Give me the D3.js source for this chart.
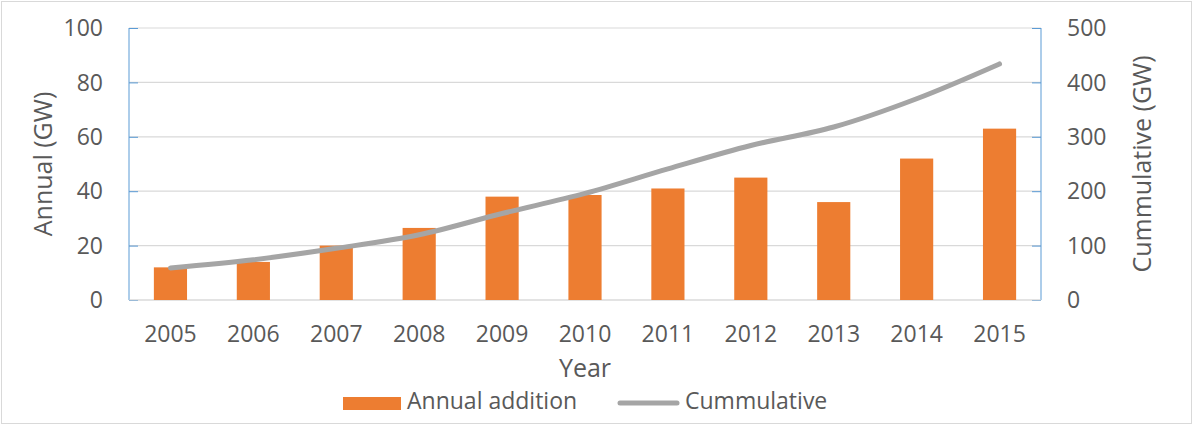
<!DOCTYPE html>
<html>
<head>
<meta charset="utf-8">
<script src="https://cdn.jsdelivr.net/npm/d3@7"></script>
<style>
  body { margin: 0; background: #fff; }
  svg { display: block; font-family: 'Open Sans', sans-serif; }
</style>
</head>
<body>
<svg></svg>
<script>
const width = 1198;
const height = 426;

const years = ['2005', '2006', '2007', '2008', '2009', '2010', '2011', '2012', '2013', '2014', '2015'];
const annual = [12, 14, 20, 26.5, 38, 38.6, 41, 45, 36, 52, 63];
const cumulative = [59, 74, 95, 120, 159, 196, 241, 284, 318, 370, 434];
const leftTicks = [0, 20, 40, 60, 80, 100];
const rightTicks = [0, 100, 200, 300, 400, 500];

const plot = { left: 129, right: 1041, top: 28, bottom: 300 };
const textColor = '#595959';
const axisBlue = '#5b9bd5';

const svg = d3.select('svg')
  .attr('width', width)
  .attr('height', height);

// outer frame
svg.append('rect')
  .attr('x', 1.5)
  .attr('y', 1.5)
  .attr('width', 1190)
  .attr('height', 422)
  .attr('fill', '#fff')
  .attr('stroke', '#d9d9d9');

svg.append('clipPath')
  .attr('id', 'chartClip')
  .append('rect')
  .attr('x', 0)
  .attr('y', 0)
  .attr('width', width)
  .attr('height', 410);

const g = svg.append('g').attr('clip-path', 'url(#chartClip)');

const xScale = d3.scaleBand()
  .domain(years)
  .range([plot.left, plot.right])
  .paddingInner(0.6)
  .paddingOuter(0.3);

const yLeft = d3.scaleLinear()
  .domain([0, 100])
  .range([plot.bottom, plot.top]);

const yRight = d3.scaleLinear()
  .domain([0, 500])
  .range([plot.bottom, plot.top]);

// ====================================
// Gridlines
// ====================================
g.append('g')
  .selectAll('line')
  .data(leftTicks)
  .enter()
  .append('line')
  .attr('x1', plot.left)
  .attr('x2', plot.right)
  .attr('y1', d => yLeft(d))
  .attr('y2', d => yLeft(d))
  .attr('stroke', '#d9d9d9')
  .attr('stroke-width', 1.2);

// ====================================
// Axes
// ====================================
const leftAxis = g.append('g')
  .attr('transform', `translate(${plot.left}, 0)`)
  .call(d3.axisRight(yLeft).tickValues(leftTicks).tickSize(9).tickFormat(''));
leftAxis.select('.domain').attr('stroke', axisBlue).attr('d', `M0,${plot.top}V${plot.bottom}`);
leftAxis.selectAll('.tick line').attr('stroke', axisBlue);

const rightAxis = g.append('g')
  .attr('transform', `translate(${plot.right}, 0)`)
  .call(d3.axisLeft(yRight).tickValues(rightTicks).tickSize(9).tickFormat(''));
rightAxis.select('.domain').attr('stroke', axisBlue).attr('d', `M0,${plot.top}V${plot.bottom}`);
rightAxis.selectAll('.tick line').attr('stroke', axisBlue);

g.append('g')
  .selectAll('text')
  .data(leftTicks)
  .enter()
  .append('text')
  .attr('x', plot.left - 26)
  .attr('y', d => yLeft(d))
  .attr('dy', '0.36em')
  .attr('text-anchor', 'end')
  .attr('font-size', 23)
  .attr('fill', textColor)
  .text(d => d);

g.append('g')
  .selectAll('text')
  .data(rightTicks)
  .enter()
  .append('text')
  .attr('x', plot.right + 26)
  .attr('y', d => yRight(d))
  .attr('dy', '0.36em')
  .attr('text-anchor', 'start')
  .attr('font-size', 23)
  .attr('fill', textColor)
  .text(d => d);

const bottomAxis = g.append('g')
  .attr('transform', `translate(0, ${plot.bottom})`)
  .call(d3.axisBottom(xScale).tickSize(0).tickPadding(26));
bottomAxis.select('.domain').attr('stroke', '#d9d9d9').attr('stroke-width', 1.2)
  .attr('d', `M${plot.left},0H${plot.right}`);
bottomAxis.selectAll('.tick text')
  .attr('font-family', 'Open Sans')
  .attr('font-size', 23)
  .attr('fill', textColor);

// ====================================
// Bars
// ====================================
g.append('g')
  .selectAll('rect')
  .data(years)
  .enter()
  .append('rect')
  .attr('x', d => xScale(d))
  .attr('width', xScale.bandwidth())
  .attr('y', (d, i) => yLeft(annual[i]))
  .attr('height', (d, i) => plot.bottom - yLeft(annual[i]))
  .attr('fill', '#ed7d31');

// ====================================
// Cumulative line
// ====================================
const line = d3.line()
  .x((d, i) => xScale(years[i]) + xScale.bandwidth() / 2)
  .y(d => yRight(d))
  .curve(d3.curveMonotoneX);

g.append('path')
  .datum(cumulative)
  .attr('d', line)
  .attr('fill', 'none')
  .attr('stroke', '#a5a5a5')
  .attr('stroke-width', 5)
  .attr('stroke-linecap', 'round')
  .attr('stroke-linejoin', 'round');

// ====================================
// Titles
// ====================================
g.append('text')
  .attr('transform', 'translate(52, 164) rotate(-90)')
  .attr('text-anchor', 'middle')
  .attr('font-size', 25)
  .attr('fill', textColor)
  .text('Annual (GW)');

g.append('text')
  .attr('transform', 'translate(1151, 164) rotate(-90)')
  .attr('text-anchor', 'middle')
  .attr('font-size', 25)
  .attr('fill', textColor)
  .text('Cummulative (GW)');

g.append('text')
  .attr('x', (plot.left + plot.right) / 2)
  .attr('y', 377)
  .attr('text-anchor', 'middle')
  .attr('font-size', 25)
  .attr('fill', textColor)
  .text('Year');

// ====================================
// Legend
// ====================================
const legend = g.append('g');

legend.append('rect')
  .attr('x', 343)
  .attr('y', 397)
  .attr('width', 58)
  .attr('height', 14)
  .attr('fill', '#ed7d31');

legend.append('text')
  .attr('x', 407)
  .attr('y', 409)
  .attr('font-size', 23)
  .attr('fill', textColor)
  .text('Annual addition');

legend.append('line')
  .attr('x1', 620)
  .attr('x2', 677)
  .attr('y1', 403)
  .attr('y2', 403)
  .attr('stroke', '#a5a5a5')
  .attr('stroke-width', 5)
  .attr('stroke-linecap', 'round');

legend.append('text')
  .attr('x', 685)
  .attr('y', 409)
  .attr('font-size', 23)
  .attr('fill', textColor)
  .text('Cummulative');
</script>
</body>
</html>
